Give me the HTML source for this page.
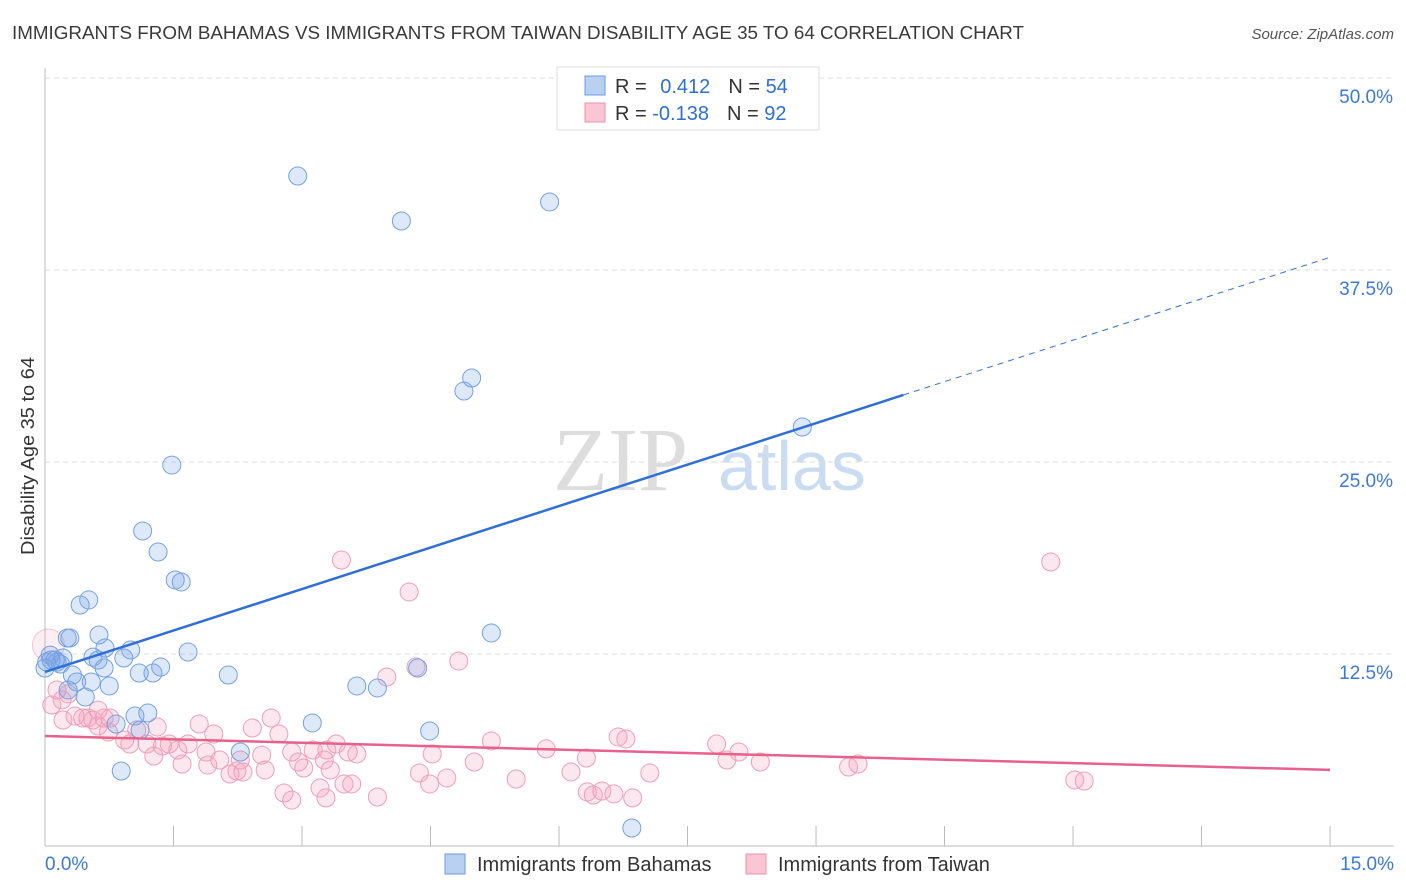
<!DOCTYPE html>
<html><head><meta charset="utf-8"><style>
body{margin:0;background:#fff;font-family:"Liberation Sans",sans-serif;}
svg{display:block}
</style></head><body>
<svg width="1406" height="892" xmlns="http://www.w3.org/2000/svg">
<text x="12" y="39" font-size="18.5" fill="#3a3a3a" textLength="1012" lengthAdjust="spacingAndGlyphs">IMMIGRANTS FROM BAHAMAS VS IMMIGRANTS FROM TAIWAN DISABILITY AGE 35 TO 64 CORRELATION CHART</text>
<text x="1394" y="39" font-size="15" fill="#555" font-style="italic" text-anchor="end">Source: ZipAtlas.com</text>
<g>
<text x="553" y="490" font-size="90" fill="#ddd" font-family="Liberation Serif,serif">ZIP</text>
<text x="718" y="490" font-size="70" fill="#c9dcf2">atlas</text>
</g>
<g id="grid"></g>
<g id="axes"></g>
<g id="marks"></g>
<text transform="translate(34,456) rotate(-90)" font-size="18" fill="#333" text-anchor="middle" textLength="198" lengthAdjust="spacingAndGlyphs">Disability Age 35 to 64</text>
<g>
<rect x="557" y="67" width="262" height="63" fill="#fff" stroke="#ddd"/>
<rect x="585" y="76" width="20" height="19" fill="#b9d0f1" stroke="#6a9be0"/>
<rect x="585" y="103" width="20" height="19" fill="#f8c6d5" stroke="#ea91ad"/>
<text x="615" y="93" font-size="20" fill="#333">R = <tspan fill="#2f6fd6" dx="8">0.412</tspan><tspan fill="#333" dx="18">N = </tspan><tspan fill="#2f6fd6">54</tspan></text>
<text x="615" y="120" font-size="20" fill="#333">R = <tspan fill="#2f6fd6">-0.138</tspan><tspan fill="#333" dx="18">N = </tspan><tspan fill="#2f6fd6">92</tspan></text>
</g>
<g>
<rect x="445" y="854" width="20" height="20" fill="#b9d0f1" stroke="#6a9be0"/>
<text x="477" y="871" font-size="20" fill="#333">Immigrants from Bahamas</text>
<rect x="746" y="854" width="20" height="20" fill="#f8c6d5" stroke="#ea91ad"/>
<text x="778" y="871" font-size="20" fill="#333">Immigrants from Taiwan</text>
</g>
</svg>
<script>
const yTicks=[12.5,25,37.5,50];
const yTickLabels=["12.5%","25.0%","37.5%","50.0%"];
const xTickLabels=["0.0%","15.0%"];
const blueX=[2.95,4.16,5.89,4.98,4.89,1.48,8.84,1.14,1.32,1.52,1.59,0.51,0.41,5.21,0.63,0.26,0.29,0.70,1.00,1.67,0.56,0.92,0.62,0.07,0.14,0.02,0.18,4.35,0.69,1.35,0.32,1.10,1.26,2.14,0.37,0.54,0.75,3.64,3.88,0.27,0.47,1.20,1.05,0.83,1.11,4.49,3.12,2.28,0.89,6.85,0.06,0.12,0.0,0.21];
const blueY=[43.62,40.69,41.93,30.47,29.62,24.80,27.28,20.51,19.14,17.32,17.19,16.02,15.69,13.87,13.74,13.54,13.54,12.89,12.76,12.63,12.30,12.24,12.11,12.11,11.98,11.98,11.85,11.59,11.59,11.65,11.13,11.26,11.26,11.13,10.68,10.68,10.42,10.42,10.29,10.16,9.70,8.66,8.46,7.94,7.55,7.49,8.01,6.12,4.88,1.17,12.43,12.11,11.59,12.24];
const pinkX=[3.46,11.74,4.25,4.33,4.83,3.99,0.04,0.14,0.27,0.20,0.35,0.50,0.44,0.56,0.62,0.74,0.99,0.93,1.07,1.31,1.19,1.45,1.37,1.27,1.60,1.55,1.80,1.67,1.88,1.97,1.90,2.04,2.16,2.24,2.31,2.42,2.28,2.53,2.57,2.64,2.73,2.88,2.96,3.02,3.13,3.26,3.29,3.40,3.33,3.54,3.64,2.79,2.88,3.21,3.28,3.49,3.58,3.88,4.37,4.49,4.52,4.69,5.01,5.21,5.50,5.85,6.14,6.32,6.33,6.40,6.50,6.69,6.78,6.64,6.86,7.06,7.84,7.96,8.10,8.35,9.38,9.49,12.02,12.13,0.62,0.69,0.76,0.08,0.21];
const pinkY=[18.62,18.49,16.54,11.65,12.04,11.00,13.09,10.16,9.90,9.51,8.46,8.33,8.33,8.20,7.81,7.42,6.64,6.90,7.55,7.75,6.64,6.64,6.51,5.86,5.34,6.25,7.94,6.64,6.12,7.29,5.27,5.60,4.69,4.88,4.82,7.68,5.60,5.92,4.95,8.33,7.29,6.12,5.47,5.08,6.25,5.60,6.25,6.64,4.95,6.12,5.99,3.45,2.99,3.78,3.13,4.04,4.04,3.19,4.75,4.04,5.99,4.43,5.47,6.84,4.36,6.32,4.82,5.73,3.52,3.32,3.58,7.10,6.97,3.39,3.13,4.75,6.64,5.60,6.12,5.47,5.14,5.34,4.30,4.23,8.85,8.33,8.33,9.18,8.20];
const blueFit=[11.33,1.8];
const pinkFit=[7.16,-0.147];
const NS="http://www.w3.org/2000/svg";
const X=v=>45+v*85.67, Y=v=>846-v*15.36;
function mk(t,a,p){const e=document.createElementNS(NS,t);for(const k in a)e.setAttribute(k,a[k]);p.appendChild(e);return e;}
const grid=document.getElementById('grid'),axes=document.getElementById('axes'),marks=document.getElementById('marks');
yTicks.forEach((t,i)=>{
 const l=mk('line',{x1:45,x2:1394,y1:Y(t),y2:Y(t),stroke:'#ddd','stroke-dasharray':'5,4'},grid);
 
 
 const tx=mk('text',{x:1393,y:Y(t)+25,'font-size':19,fill:'#3b7ad9','text-anchor':'end'},axes);
 tx.textContent=yTickLabels[i];
 
 
});
let a=mk('line',{x1:45,x2:45,y1:68,y2:846,stroke:'#bbb'},axes);


a=mk('line',{x1:45,x2:1394,y1:846,y2:846,stroke:'#bbb'},axes);


for(let i=1;i<=10;i++){const t=mk('line',{x1:X(i*1.5),x2:X(i*1.5),y1:826,y2:846,stroke:'#bbb'},axes);
 
 }
[[0,'start',45],[15,'end',1394]].forEach((d,i)=>{const t=mk('text',{x:d[2],y:870,'font-size':19,fill:'#3b7ad9','text-anchor':d[1]},axes);t.textContent=xTickLabels[i];
 
 });
pinkX.forEach((x,i)=>{const c=mk('circle',{cx:X(x),cy:Y(pinkY[i]),r:i==6?16:9,fill:i==6?'rgba(244,160,188,0.18)':'rgba(244,160,188,0.25)',stroke:i==6?'rgba(234,145,173,0.5)':'#ee9fb8','stroke-width':1},marks);
 
 });
blueX.forEach((x,i)=>{const c=mk('circle',{cx:X(x),cy:Y(blueY[i]),r:9,fill:'rgba(120,165,230,0.25)',stroke:'#74a2e2','stroke-width':1},marks);
 
 });
let f=mk('line',{x1:X(0),y1:Y(blueFit[0]),x2:X(10.02),y2:Y(blueFit[0]+blueFit[1]*10.02),stroke:'#2f6fd6','stroke-width':2.5},marks);


f=mk('line',{x1:X(10.02),y1:Y(blueFit[0]+blueFit[1]*10.02),x2:X(15),y2:Y(blueFit[0]+blueFit[1]*15),stroke:'#2f6fd6','stroke-width':1,'stroke-dasharray':'6,5'},marks);


f=mk('line',{x1:X(0),y1:Y(pinkFit[0]),x2:X(15),y2:Y(pinkFit[0]+pinkFit[1]*15),stroke:'#e8608c','stroke-width':2.5},marks);


</script>
</body></html>
